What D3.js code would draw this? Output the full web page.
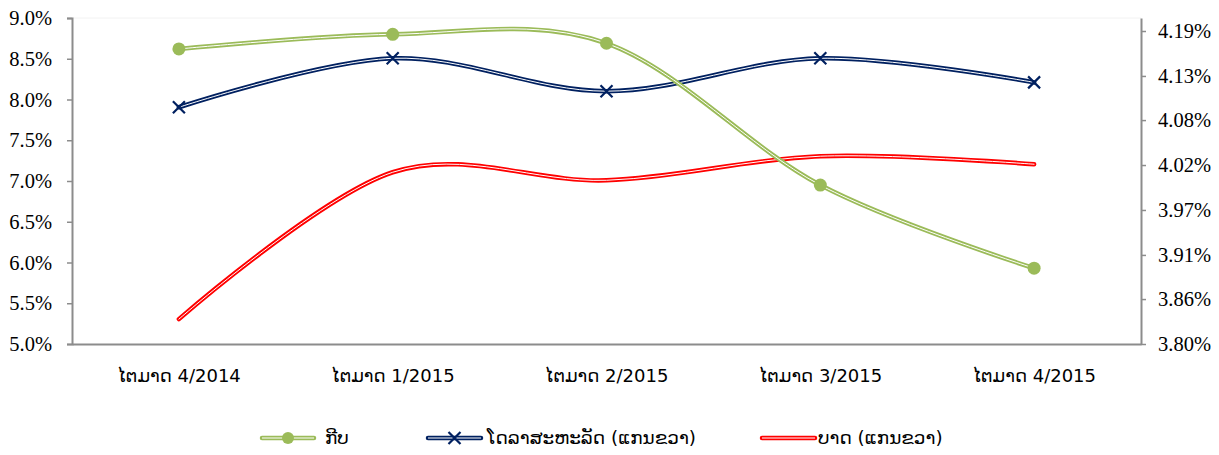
<!DOCTYPE html>
<html>
<head>
<meta charset="utf-8">
<script src="https://cdn.jsdelivr.net/npm/d3@7"></script>
<style>
	body { margin: 0; background: #fff; }
	svg { display: block; }
</style>
</head>
<body>
<script>
// categories (quarters)
var categories = ["ໄຕມາດ 4/2014", "ໄຕມາດ 1/2015", "ໄຕມາດ 2/2015", "ໄຕມາດ 3/2015", "ໄຕມາດ 4/2015"];

// series values (%)
var kip = [8.62, 8.80, 8.69, 6.95, 5.93];            // left axis
var usd = [4.095, 4.156, 4.115, 4.156, 4.126];       // right axis
var baht = [3.831, 4.014, 4.004, 4.034, 4.024];      // right axis

// tick labels
var leftTicks = [5.0, 5.5, 6.0, 6.5, 7.0, 7.5, 8.0, 8.5, 9.0];
var rightTicks = [3.80, 3.856, 3.911, 3.967, 4.023, 4.079, 4.134, 4.19];

var seriesNames = ["ກີບ", "ໂດລາສະຫະລັດ (ແກນຂວາ)", "ບາດ (ແກນຂວາ)"];

var W = 1219, H = 455;
var plotL = 72, plotR = 1141, plotT = 18, plotB = 344;
var serif = "'Liberation Serif', 'Times New Roman', serif";
var sans = "'DejaVu Sans', 'Noto Sans', sans-serif";

var svg = d3.select("body").append("svg")
	.attr("width", W)
	.attr("height", H);

var x = d3.scaleBand().domain(categories).range([plotL, plotR]);
var yL = d3.scaleLinear().domain([5.0, 9.0]).range([plotB, plotT]);
var yR = d3.scaleLinear().domain([3.80, 4.2062]).range([plotB, plotT]);

// faint plot border top
svg.append("line")
	.attr("x1", plotL).attr("x2", plotR)
	.attr("y1", plotT).attr("y2", plotT)
	.style("stroke", "#f2f2f2").style("stroke-width", 1);

//axes
var axisColor = "#8c8c8c";
function styleAxis(g, font, size) {
	g.selectAll("path.domain").style("stroke", axisColor).style("stroke-width", 2);
	g.selectAll(".tick line").style("stroke", axisColor).style("stroke-width", 1.5);
	g.selectAll("text").style("font-family", font).style("font-size", size).style("fill", "#000");
}

var gL = svg.append("g")
	.attr("transform", "translate(" + plotL + ",0)")
	.call(d3.axisLeft(yL).tickValues(leftTicks).tickSize(5).tickSizeOuter(5).tickPadding(15)
		.tickFormat(function (d) { return d.toFixed(1) + "%"; }));
styleAxis(gL, serif, "20.5px");

var gR = svg.append("g")
	.attr("transform", "translate(" + plotR + ",0)")
	.call(d3.axisRight(yR).tickValues(rightTicks).tickSize(5).tickSizeOuter(0).tickPadding(12)
		.tickFormat(function (d) { return d.toFixed(2) + "%"; }));
styleAxis(gR, serif, "20.5px");

var gB = svg.append("g")
	.attr("transform", "translate(0," + plotB + ")")
	.call(d3.axisBottom(x).tickSize(0).tickPadding(25));
styleAxis(gB, sans, "18px");

//lines
function cx(d, i) { return x(categories[i]) + x.bandwidth() / 2; }

function drawSeries(vals, scale, color, width) {
	var line = d3.line()
		.x(function (d, i) { return cx(d, i); })
		.y(function (d) { return scale(d); })
		.curve(d3.curveCardinal.tension(0));
	svg.append("path").datum(vals)
		.attr("d", line)
		.style("fill", "none").style("stroke", color)
		.style("stroke-width", width).style("stroke-linecap", "round");
	svg.append("path").datum(vals)
		.attr("d", line)
		.style("fill", "none").style("stroke", "#fff")
		.style("stroke-width", 1).style("stroke-linecap", "round");
}

var green = "#9bbb59", navy = "#002060", red = "#ff0000";

drawSeries(baht, yR, red, 4.5);
drawSeries(usd, yR, navy, 4.5);
drawSeries(kip, yL, green, 4.5);

// markers
function xMark(g, px, py, color) {
	var s = 6;
	g.append("path")
		.attr("d", "M" + (px - s) + "," + (py - s) + "L" + (px + s) + "," + (py + s) +
			"M" + (px - s) + "," + (py + s) + "L" + (px + s) + "," + (py - s))
		.style("stroke", color).style("stroke-width", 2.2).style("fill", "none");
}

svg.selectAll(".kipDot").data(kip).enter().append("circle")
	.attr("cx", cx).attr("cy", function (d) { return yL(d); })
	.attr("r", 6.5).style("fill", green);

usd.forEach(function (d, i) { xMark(svg, cx(d, i), yR(d), navy); });

//legend
var lg = svg.append("g");
var legendItems = [
	{ x0: 262, x1: 314, tx: 325, color: green, mark: "dot" },
	{ x0: 428, x1: 481, tx: 487, color: navy, mark: "x" },
	{ x0: 762, x1: 815, tx: 818, color: red, mark: null }
];
var ly = 438;
legendItems.forEach(function (it, i) {
	lg.append("line").attr("x1", it.x0).attr("x2", it.x1).attr("y1", ly).attr("y2", ly)
		.style("stroke", it.color).style("stroke-width", 4.5).style("stroke-linecap", "round");
	lg.append("line").attr("x1", it.x0).attr("x2", it.x1).attr("y1", ly).attr("y2", ly)
		.style("stroke", "#fff").style("stroke-width", 1);
	var mx = (it.x0 + it.x1) / 2;
	if (it.mark === "dot") {
		lg.append("circle").attr("cx", mx).attr("cy", ly).attr("r", 6).style("fill", it.color);
	} else if (it.mark === "x") {
		xMark(lg, mx, ly, it.color);
	}
	lg.append("text").attr("x", it.tx).attr("y", ly).attr("dy", "0.35em")
		.style("font-family", sans).style("font-size", "18.4px").style("fill", "#000")
		.text(seriesNames[i]);
});
</script>
</body>
</html>
